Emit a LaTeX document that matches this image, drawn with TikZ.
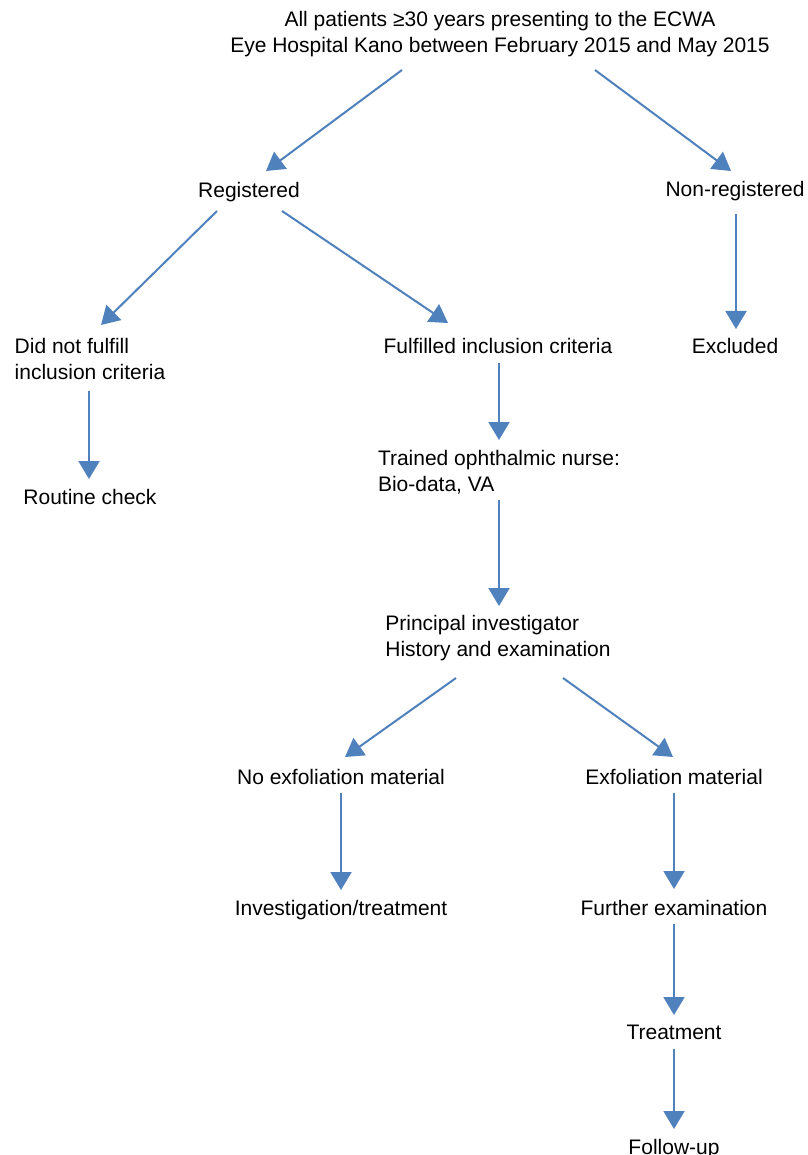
\documentclass[tikz,border=0pt]{standalone}
\usepackage{fontspec}
\setmainfont{Liberation Sans}
\usetikzlibrary{arrows.meta,calc}
\definecolor{arrblue}{RGB}{79,129,189}
\begin{document}
\begin{tikzpicture}[x=0.75pt,y=-0.75pt,
  lbl/.style={inner sep=0pt,outer sep=0pt,anchor=base,font=\fontsize{15.75}{19.5}\selectfont},
  arr/.style={draw=arrblue,line width=1.5pt,-{Triangle[width=15.75pt,length=13.5pt]},fill=arrblue}]
\fill[white] (0,0) rectangle (807,1155);
\useasboundingbox (0,0) rectangle (807,1155);
% nodes (anchor = base of last line)
\node[lbl,align=center] (top) at (500,53) {All patients ≥30 years presenting to the ECWA\\Eye Hospital Kano between February 2015 and May 2015};
\node[lbl] (reg) at (249,198) {Registered};
\node[lbl] (nonreg) at (735,197) {Non-registered};
\node[lbl,align=left] (notful) at (90,379) {Did not fulfill\\inclusion criteria};
\node[lbl] (ful) at (498,353) {Fulfilled inclusion criteria};
\node[lbl] (excl) at (735,353) {Excluded};
\node[lbl] (routine) at (90,504) {Routine check};
\node[lbl,align=left] (nurse) at (499,491) {Trained ophthalmic nurse:\\Bio-data, VA};
\node[lbl,align=left] (pi) at (498,656) {Principal investigator\\History and examination};
\node[lbl] (noexf) at (341,784) {No exfoliation material};
\node[lbl] (exf) at (674,784) {Exfoliation material};
\node[lbl] (inv) at (341,915) {Investigation/treatment};
\node[lbl] (further) at (674,915) {Further examination};
\node[lbl] (treat) at (674,1039) {Treatment};
\node[lbl] (follow) at (674,1154) {Follow-up};
% connectors
\draw[arr] ($(top.base)+(-98,17)$) -- ($(reg.base)+(17,-27)$);
\draw[arr] ($(top.base)+(95,17)$) -- ($(nonreg.base)+(-4,-26)$);
\draw[arr] ($(reg.base)+(-32,13)$) -- ($(notful.base)+(11,-54)$);
\draw[arr] ($(reg.base)+(33,13)$) -- ($(ful.base)+(-50,-30)$);
\draw[arr] ($(nonreg.base)+(1,17)$) -- ($(excl.base)+(1,-24)$);
\draw[arr] ($(notful.base)+(-1,12)$) -- ($(routine.base)+(-1,-25)$);
\draw[arr] ($(ful.base)+(1,10)$) -- ($(nurse.base)+(0,-51)$);
\draw[arr] ($(nurse.base)+(0,9)$) -- ($(pi.base)+(1,-50)$);
\draw[arr] ($(pi.base)+(-42,22)$) -- ($(noexf.base)+(4,-27)$);
\draw[arr] ($(pi.base)+(65,22)$) -- ($(exf.base)+(-1,-27)$);
\draw[arr] ($(noexf.base)+(0,9)$) -- ($(inv.base)+(0,-25)$);
\draw[arr] ($(exf.base)+(0,9)$) -- ($(further.base)+(0,-26)$);
\draw[arr] ($(further.base)+(0,9)$) -- ($(treat.base)+(0,-24)$);
\draw[arr] ($(treat.base)+(0,10)$) -- ($(follow.base)+(0,-25)$);
\end{tikzpicture}
\end{document}
